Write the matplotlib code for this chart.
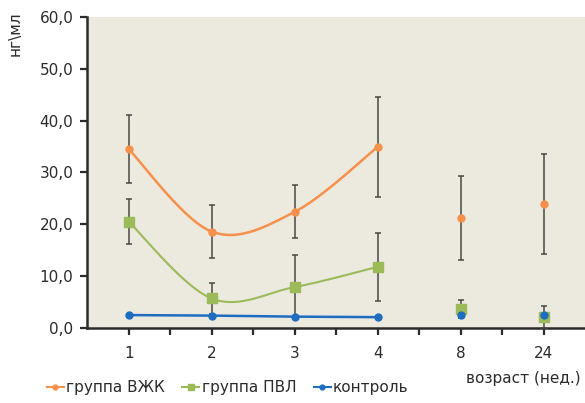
import numpy as np
import matplotlib.pyplot as plt

plt.rcParams['font.family'] = ['DejaVu Sans']

# Age groups (weeks) and measured values, ng/ml
weeks = ['1', '2', '3', '4', '8', '24']
vzhk = [34.5, 18.6, 22.4, 34.9, 21.3, 23.9]
vzhk_err = [6.6, 5.1, 5.1, 9.6, 8.1, 9.6]
pvl = [20.5, 5.7, 7.9, 11.8, 3.7, 2.1]
pvl_err = [4.3, 3.0, 6.2, 6.6, 1.7, 2.1]
control = [2.5, 2.4, 2.2, 2.1, 2.5, 2.6]

ORANGE = '#F7904A'
GREEN = '#9BBB59'
BLUE = '#1F6DBF'
ERR = '#4A4843'
TXT = '#2B2B2B'


def smooth(xs, ys, n=40):
    # Excel-style smoothed line: cubic Bezier with Catmull-Rom control points
    pts = np.column_stack([xs, ys]).astype(float)
    ext = np.vstack([pts[0], pts, pts[-1]])
    out = []
    t = np.linspace(0, 1, n)[:, None]
    for i in range(len(pts) - 1):
        p0, p1, p2, p3 = ext[i], ext[i + 1], ext[i + 2], ext[i + 3]
        c1 = p1 + (p2 - p0) / 6
        c2 = p2 - (p3 - p1) / 6
        seg = ((1 - t) ** 3) * p1 + 3 * ((1 - t) ** 2) * t * c1 + 3 * (1 - t) * t ** 2 * c2 + t ** 3 * p2
        out.append(seg)
    out = np.vstack(out)
    return out[:, 0], out[:, 1]


x = np.arange(len(weeks)) + 0.5

fig = plt.figure(figsize=(5.85, 4.03), dpi=100)
ax = fig.add_axes([0.149, 0.186, 0.851, 0.772])
ax.set_facecolor('#ECE9DF')

# smoothed connecting lines for the first four weeks
sx, sy = smooth(x[:4], vzhk[:4])
ax.plot(sx, sy, color=ORANGE, lw=1.8, zorder=2)
sx, sy = smooth(x[:4], pvl[:4])
ax.plot(sx, sy, color=GREEN, lw=1.5, zorder=2)
ax.plot(x[:4], control[:4], color=BLUE, lw=1.8, zorder=2)

ax.errorbar(x, vzhk, yerr=vzhk_err, fmt='none', ecolor=ERR, elinewidth=1.1,
            capsize=2.5, capthick=1.1, zorder=3)
ax.errorbar(x, pvl, yerr=pvl_err, fmt='none', ecolor=ERR, elinewidth=1.1,
            capsize=2.5, capthick=1.1, zorder=3)

ax.plot(x, vzhk, 'o', color=ORANGE, ms=5, zorder=4)
ax.plot(x, pvl, 's', color=GREEN, ms=7, zorder=4)
ax.plot(x, control, 'o', color=BLUE, ms=5, zorder=5)

ax.set_xlim(0, 6)
ax.set_ylim(0, 60)
ax.set_yticks(np.arange(0, 61, 10))
ax.set_yticklabels([f'{v:.1f}'.replace('.', ',') for v in range(0, 61, 10)])
ax.set_xticks(x)
ax.set_xticklabels(weeks)
ax.set_xticks(np.arange(1, 6), minor=True)

for s in ['top', 'right']:
    ax.spines[s].set_visible(False)
for s in ['left', 'bottom']:
    ax.spines[s].set_color(TXT)
    ax.spines[s].set_linewidth(1.8)
ax.tick_params(axis='both', which='both', direction='out', length=5, width=1.6,
               color=TXT, labelsize=11, labelcolor=TXT)
ax.tick_params(axis='x', pad=8)
ax.tick_params(axis='y', pad=5)

ax.text(-0.145, 0.945, 'нг\\мл', transform=ax.transAxes, rotation=90,
        ha='center', va='center', fontsize=11, color=TXT)

# legend below the chart
h1, = ax.plot([], [], '-o', color=ORANGE, lw=1.5, ms=3.5)
h2, = ax.plot([], [], '-s', color=GREEN, lw=1.5, ms=4.5)
h3, = ax.plot([], [], '-o', color=BLUE, lw=1.5, ms=3.5)
fig.legend([h1, h2, h3], ['группа ВЖК', 'группа ПВЛ', 'контроль'],
           loc='center left', bbox_to_anchor=(0.07, 0.038), ncol=3,
           frameon=False, fontsize=11, handlelength=1.1, handletextpad=0.15,
           columnspacing=1.15, labelcolor=TXT, borderaxespad=0)

fig.text(0.797, 0.062, 'возраст (нед.)', fontsize=11, color=TXT,
         ha='left', va='center')

fig.savefig('out.png', dpi=100)
